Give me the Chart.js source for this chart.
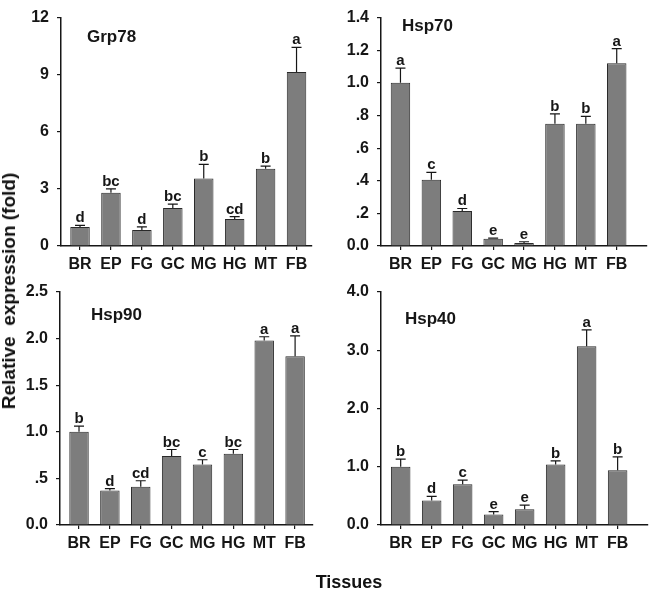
<!DOCTYPE html>
<html>
<head>
<meta charset="utf-8">
<script src="https://cdn.jsdelivr.net/npm/chart.js@4/dist/chart.umd.min.js"></script>
<style>
  html, body { margin: 0; padding: 0; background: #fff; }
  #wrap { position: relative; width: 652px; height: 592px; overflow: hidden; background: #fff; }
  #wrap canvas { position: absolute; left: 0; top: 0; }
  .lbl { position: absolute; font-family: "Liberation Sans", Arial, sans-serif; font-weight: bold; color: #111; white-space: pre; }
</style>
</head>
<body>
<div id="wrap">
  <canvas id="c1" width="652" height="592"></canvas>
  <canvas id="c2" width="652" height="592"></canvas>
  <canvas id="c3" width="652" height="592"></canvas>
  <canvas id="c4" width="652" height="592"></canvas>
  <div class="lbl" id="ytitle" style="left:9px; top:291px; font-size:19px; transform: translate(-50%,-50%) rotate(-90deg);">Relative  expression (fold)</div>
  <div class="lbl" id="xtitle" style="left:349px; top:582px; font-size:18px; transform: translate(-50%,-50%);">Tissues</div>
</div>
<script>
// ---------------- DATA ----------------
const tissues = ['BR', 'EP', 'FG', 'GC', 'MG', 'HG', 'MT', 'FB'];

const grp78Mean    = [1.00, 2.80, 0.84, 2.00, 3.55, 1.42, 4.06, 9.14];
const grp78Err     = [0.08, 0.20, 0.16, 0.20, 0.74, 0.12, 0.14, 1.30];
const grp78Letters = ['d', 'bc', 'd', 'bc', 'b', 'cd', 'b', 'a'];
const grp78Ticks      = [0, 3, 6, 9, 12];
const grp78TickLabels = ['0', '3', '6', '9', '12'];

const hsp70Mean    = [1.00, 0.406, 0.214, 0.044, 0.018, 0.75, 0.75, 1.12];
const hsp70Err     = [0.09, 0.045, 0.016, 0.004, 0.008, 0.06, 0.045, 0.09];
const hsp70Letters = ['a', 'c', 'd', 'e', 'e', 'b', 'b', 'a'];
const hsp70Ticks      = [0, 0.2, 0.4, 0.6, 0.8, 1.0, 1.2, 1.4];
const hsp70TickLabels = ['0.0', '.2', '.4', '.6', '.8', '1.0', '1.2', '1.4'];

const hsp90Mean    = [1.00, 0.37, 0.41, 0.74, 0.65, 0.764, 1.98, 1.81];
const hsp90Err     = [0.06, 0.02, 0.065, 0.07, 0.05, 0.046, 0.04, 0.22];
const hsp90Letters = ['b', 'd', 'cd', 'bc', 'c', 'bc', 'a', 'a'];
const hsp90Ticks      = [0, 0.5, 1.0, 1.5, 2.0, 2.5];
const hsp90TickLabels = ['0.0', '.5', '1.0', '1.5', '2.0', '2.5'];

const hsp40Mean    = [1.00, 0.42, 0.70, 0.18, 0.27, 1.04, 3.07, 0.94];
const hsp40Err     = [0.13, 0.07, 0.07, 0.05, 0.07, 0.06, 0.28, 0.23];
const hsp40Letters = ['b', 'd', 'c', 'e', 'e', 'b', 'a', 'b'];
const hsp40Ticks      = [0, 1, 2, 3, 4];
const hsp40TickLabels = ['0.0', '1.0', '2.0', '3.0', '4.0'];

// ---------------- STYLE ----------------
const FONT = '"Liberation Sans", Arial, sans-serif';
const INK = '#161616';
const BAR_FILL = '#7d7d7d';
const BAR_EDGE = '#2a2a2a';

Chart.defaults.font.family = FONT;
Chart.defaults.font.weight = 'bold';
Chart.defaults.color = INK;

const errPlugin = {
  id: 'errLetters',
  afterDatasetsDraw(chart, args, opts) {
    const ctx = chart.ctx;
    const xs = chart.scales.x, ys = chart.scales.y;
    const mean = opts.mean, err = opts.err, letters = opts.letters;
    ctx.save();
    ctx.strokeStyle = INK;
    ctx.lineWidth = 1.2;
    ctx.fillStyle = INK;
    ctx.font = 'bold 15px ' + FONT;
    ctx.textAlign = 'center';
    ctx.textBaseline = 'alphabetic';
    for (let i = 0; i < mean.length; i++) {
      const x = xs.getPixelForValue(i);
      const y0 = ys.getPixelForValue(mean[i]);
      const y1 = ys.getPixelForValue(mean[i] + err[i]);
      ctx.beginPath();
      ctx.moveTo(x, y0);
      ctx.lineTo(x, y1);
      ctx.moveTo(x - 5, y1);
      ctx.lineTo(x + 5, y1);
      ctx.stroke();
      ctx.fillText(letters[i], x, y1 - 3);
    }
    // panel title
    ctx.textAlign = 'left';
    ctx.textBaseline = 'middle';
    ctx.font = 'bold 17px ' + FONT;
    ctx.fillText(opts.title, chart.chartArea.left + opts.tdx, chart.chartArea.top + opts.tdy);
    ctx.restore();
  }
};

function makePanel(id, area, xRange, mean, err, letters, ticks, tickLabels, title, tdx, tdy) {
  const W = 652, H = 592;
  const ctx = document.getElementById(id).getContext('2d');
  return new Chart(ctx, {
    type: 'bar',
    data: {
      datasets: [{
        data: mean.map((v, i) => ({ x: i, y: v })),
        backgroundColor: BAR_FILL,
        borderColor: BAR_EDGE,
        borderWidth: 1,
        borderSkipped: 'bottom',
        barPercentage: 0.63,
        categoryPercentage: 1.0
      }]
    },
    options: {
      responsive: false,
      animation: false,
      devicePixelRatio: 1,
      events: [],
      layout: { padding: { left: 0, top: area.top, right: W - area.right, bottom: 0 } },
      plugins: {
        legend: { display: false },
        tooltip: { enabled: false },
        title: { display: false },
        errLetters: { mean, err, letters, title, tdx, tdy }
      },
      scales: {
        x: {
          type: 'linear',
          offset: false,
          bounds: 'data',
          min: xRange[0],
          max: xRange[1],
          afterFit: s => { s.height = H - area.bottom; },
          afterBuildTicks: s => { s.ticks = tissues.map((_, i) => ({ value: i })); },
          grid: { display: true, offset: false, drawOnChartArea: false, drawTicks: true, tickLength: 4, color: INK, lineWidth: 1.2 },
          border: { display: true, color: INK, width: 1.5 },
          ticks: {
            autoSkip: false,
            maxRotation: 0,
            padding: 5,
            font: { size: 16, weight: 'bold' },
            callback: v => tissues[v]
          }
        },
        y: {
          min: ticks[0],
          max: ticks[ticks.length - 1],
          afterFit: s => { s.width = area.left; },
          afterBuildTicks: s => { s.ticks = ticks.map(v => ({ value: v })); },
          grid: { display: true, drawOnChartArea: false, drawTicks: true, tickLength: 4, color: INK, lineWidth: 1.2 },
          border: { display: true, color: INK, width: 1.5 },
          ticks: {
            padding: 8,
            font: { size: 16, weight: 'bold' },
            callback: (v, i) => tickLabels[i]
          }
        }
      }
    },
    plugins: [errPlugin]
  });
}

makePanel('c1', { left: 61, right: 312, top: 12, bottom: 246 }, [-0.615, 7.5],
  grp78Mean, grp78Err, grp78Letters, grp78Ticks, grp78TickLabels, 'Grp78', 26, 20);
makePanel('c2', { left: 381, right: 647, top: 13, bottom: 246 }, [-0.63, 7.98],
  hsp70Mean, hsp70Err, hsp70Letters, hsp70Ticks, hsp70TickLabels, 'Hsp70', 21, 9);
makePanel('c3', { left: 60, right: 313, top: 292, bottom: 525 }, [-0.616, 7.58],
  hsp90Mean, hsp90Err, hsp90Letters, hsp90Ticks, hsp90TickLabels, 'Hsp90', 31, 23);
makePanel('c4', { left: 381, right: 648, top: 292, bottom: 525 }, [-0.635, 7.98],
  hsp40Mean, hsp40Err, hsp40Letters, hsp40Ticks, hsp40TickLabels, 'Hsp40', 24, 27);
</script>
</body>
</html>
